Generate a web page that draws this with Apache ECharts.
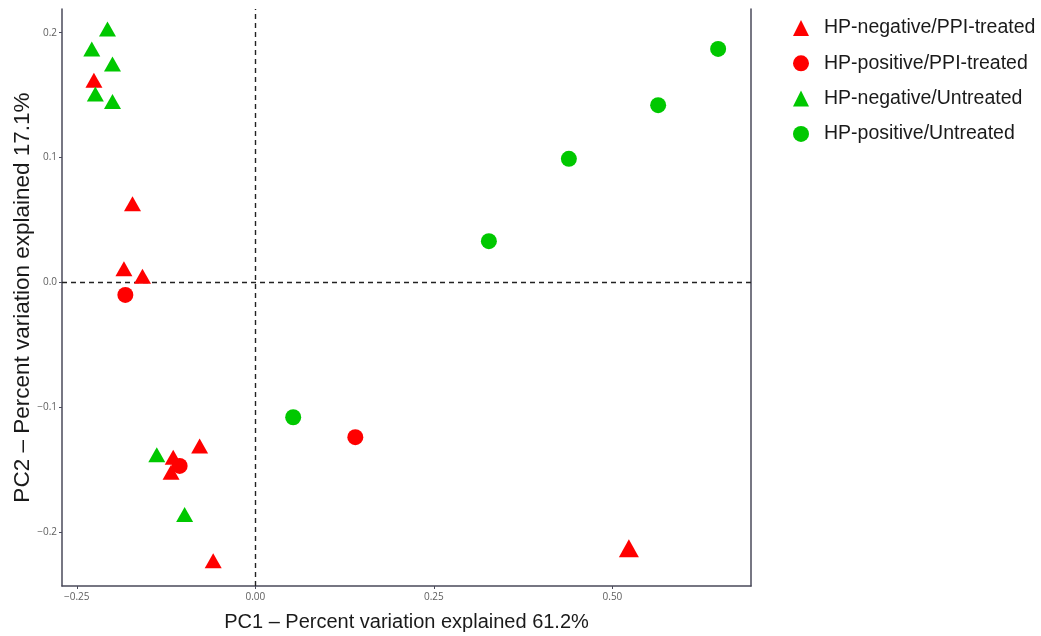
<!DOCTYPE html>
<html>
<head>
<meta charset="utf-8">
<script src="https://cdn.jsdelivr.net/npm/echarts@6/dist/echarts.min.js"></script>
<style>
html,body{margin:0;padding:0;background:#fff;}
#chart{width:1041px;height:636px;}
</style>
</head>
<body>
<div id="chart"></div>
<script>
// Group labels
const groupNames = ['HP-negative/PPI-treated','HP-positive/PPI-treated','HP-negative/Untreated','HP-positive/Untreated'];

// PC1 / PC2 values per group
const negPPI_x = [-0.226, -0.172, -0.184, -0.158, -0.115, -0.118, -0.078, -0.059, 0.523];
const negPPI_y = [0.162, 0.063, 0.011, 0.005, -0.140, -0.152, -0.131, -0.223, -0.213];

const posPPI_x = [-0.182, -0.106, 0.140];
const posPPI_y = [-0.010, -0.147, -0.124];

const negUnt_x = [-0.207, -0.229, -0.200, -0.224, -0.200, -0.138, -0.099];
const negUnt_y = [0.203, 0.187, 0.175, 0.151, 0.145, -0.138, -0.186];

const posUnt_x = [0.648, 0.564, 0.439, 0.327, 0.053];
const posUnt_y = [0.187, 0.142, 0.099, 0.033, -0.108];

// Tick labels
const xTicks = [-0.25, 0.00, 0.25, 0.50];
const yTicks = [-0.2, -0.1, 0.0, 0.1, 0.2];

const zip = (xs, ys) => xs.map((x, i) => [x, ys[i]]);

const RED = '#ff0000';
const GREEN = '#00c800';
const TRI = [17, 15];
const CIR = 16;
const axisColor = '#4a4a5a';
const labelStyle = {color: '#606060', fontSize: 10, fontFamily: 'Open Sans'};

function mk(name, data, symbol, color, size) {
  return {
    name: name, type: 'scatter', data: data, symbol: symbol, symbolSize: size,
    itemStyle: {color: color, opacity: 1}, z: 5
  };
}

const chart = echarts.init(document.getElementById('chart'), null, {renderer: 'canvas'});
chart.setOption({
  animation: false,
  backgroundColor: '#fff',
  grid: {left: 62, right: 290, top: 9, bottom: 50, outerBoundsMode: 'none', containLabel: false},
  legend: {
    orient: 'vertical', left: 788, top: 13, itemGap: 15.3,
    itemWidth: 16, itemHeight: 16,
    textStyle: {fontSize: 19.5, lineHeight: 20, color: '#1a1a1a', fontFamily: 'Liberation Sans', padding: [0, 0, 0, 10]},
    data: groupNames
  },
  xAxis: {
    type: 'value', min: -0.2707, max: 0.694,
    name: 'PC1 \u2013 Percent variation explained 61.2%',
    nameLocation: 'middle', nameGap: 26, nameMoveOverlap: false,
    nameTextStyle: {fontSize: 20, color: '#1a1a1a', fontFamily: 'Liberation Sans'},
    axisLine: {show: true, onZero: false, lineStyle: {color: axisColor, width: 1.5}},
    axisTick: {show: true, length: 3, customValues: xTicks, lineStyle: {color: axisColor}},
    axisLabel: Object.assign({customValues: xTicks, margin: 6,
      formatter: v => (v < 0 ? '\u2212' : '') + Math.abs(v).toFixed(2)}, labelStyle),
    splitLine: {show: false}
  },
  yAxis: [{
    type: 'value', min: -0.2432, max: 0.219,
    name: 'PC2 \u2013 Percent variation explained 17.1%',
    nameLocation: 'middle', nameGap: 28, nameRotate: 90, nameMoveOverlap: false,
    nameTextStyle: {fontSize: 22.5, color: '#1a1a1a', fontFamily: 'Liberation Sans'},
    axisLine: {show: true, onZero: false, lineStyle: {color: axisColor, width: 1.5}},
    axisTick: {show: true, length: 3, customValues: yTicks, lineStyle: {color: axisColor}},
    axisLabel: Object.assign({customValues: yTicks, margin: 5,
      formatter: v => (v < 0 ? '\u2212' : '') + Math.abs(v).toFixed(1)}, labelStyle),
    splitLine: {show: false}
  }, {
    type: 'value', min: -0.2432, max: 0.219, position: 'right',
    axisLine: {show: true, onZero: false, lineStyle: {color: axisColor, width: 1.5}},
    axisTick: {show: false}, axisLabel: {show: false}, splitLine: {show: false}
  }],
  series: [
    Object.assign(mk(groupNames[0], zip(negPPI_x, negPPI_y), 'triangle', RED,
      v => (v[0] > 0.5 ? [20, 18] : TRI)), {
      markLine: {
        silent: true, symbol: 'none', label: {show: false},
        lineStyle: {color: '#222', type: [5, 4], width: 1.4},
        data: [{xAxis: 0}, {yAxis: 0}]
      }
    }),
    mk(groupNames[1], zip(posPPI_x, posPPI_y), 'circle', RED, CIR),
    mk(groupNames[2], zip(negUnt_x, negUnt_y), 'triangle', GREEN, TRI),
    mk(groupNames[3], zip(posUnt_x, posUnt_y), 'circle', GREEN, CIR)
  ]
});
</script>
</body>
</html>
